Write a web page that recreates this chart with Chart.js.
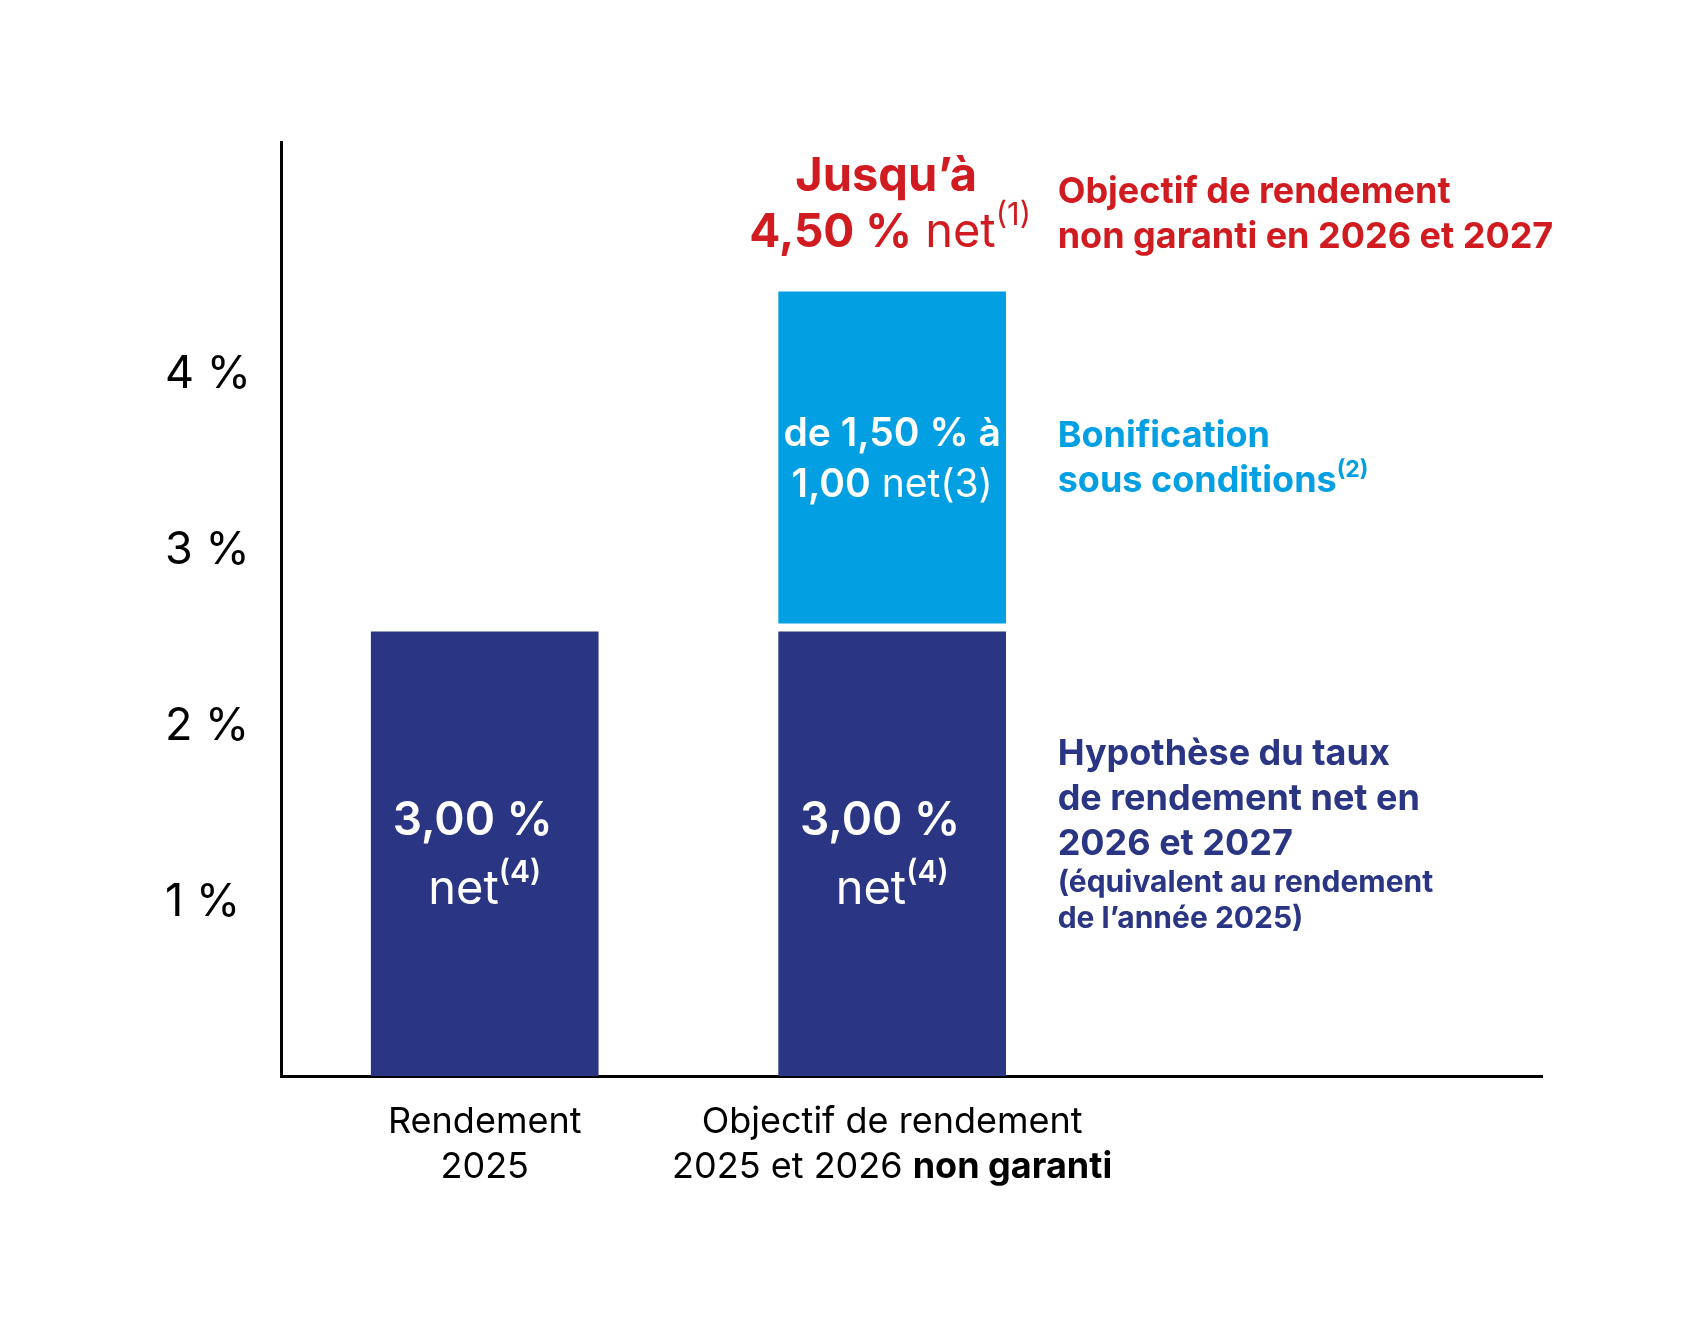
<!DOCTYPE html>
<html lang="fr">
<head>
<meta charset="UTF-8">
<title>Objectif de rendement</title>
<style>
    html, body { margin: 0; padding: 0; background: #fff; }
    #wrap { width: 1707px; height: 1326px; }
</style>
</head>
<body>
<div id="wrap"><canvas id="chart" width="1707" height="1326"></canvas></div>
<script src="https://cdn.jsdelivr.net/npm/chart.js"></script>
<script>
// --- data ---
const categories = ['Rendement 2025', 'Objectif de rendement 2025 et 2026 non garanti'];
const categoryPos = [0, 1];
const baseValues = [2.52, 2.52];          // navy bars (as drawn)
const bonusRange = [2.57, 4.45];          // light blue bar on top of the 2nd category
const yTicks = [1, 2, 3, 4];
const yTickLabels = ['1 %', '2 %', '3 %', '4 %'];

const NAVY = '#2a3583';
const BLUE = '#02a0e3';
const RED = '#d01c20';
const FONT = 'Inter, "Open Sans", sans-serif';

function f(weight, size) {
    return weight + ' ' + size + 'px ' + FONT;
}

// draws a line made of several runs (text, font, colour, vertical shift)
function drawRuns(ctx, runs, x, y, align) {
    let total = 0;
    runs.forEach(r => { ctx.font = r[1]; total += ctx.measureText(r[0]).width; });
    let cx = align === 'center' ? x - total / 2 : x;
    ctx.textAlign = 'left';
    ctx.textBaseline = 'alphabetic';
    runs.forEach(r => {
        ctx.font = r[1];
        ctx.fillStyle = r[2];
        ctx.fillText(r[0], cx, y + (r[3] || 0));
        cx += ctx.measureText(r[0]).width;
    });
}

const annotations = {
    id: 'annotations',
    afterDraw(chart) {
        const ctx = chart.ctx;
        const area = chart.chartArea;
        const xs = chart.scales.x;
        const navyBars = chart.getDatasetMeta(0).data;
        const blueBar = chart.getDatasetMeta(1).data[0];
        const navyTop = navyBars[1].y;
        const blueTop = blueBar.y;
        const c0 = xs.getPixelForValue(categoryPos[0]);
        const c1 = xs.getPixelForValue(categoryPos[1]);
        const legendX = blueBar.x + blueBar.width / 2 + 52;

        ctx.save();

        // labels inside navy bars
        navyBars.forEach(bar => {
            drawRuns(ctx, [['3,00 %', f(600, 46), '#fff']], bar.x - 12, navyTop + 203, 'center');
            drawRuns(ctx, [['net', f(400, 47), '#fff'], ['(4)', f(600, 30), '#fff', -22]], bar.x, navyTop + 272, 'center');
        });

        // label inside blue bar
        drawRuns(ctx, [['de 1,50 % à', f(600, 39), '#fff']], c1, blueTop + 154, 'center');
        drawRuns(ctx, [['1,00', f(600, 39), '#fff'], [' net(3)', f(400, 39), '#fff']], c1, blueTop + 205, 'center');

        // red headline above the stacked bar
        drawRuns(ctx, [['Jusqu’à', f(700, 47), RED]], c1 - 6, blueTop - 101, 'center');
        drawRuns(ctx, [['4,50 %', f(700, 46), RED], [' net', f(400, 47), RED], ['(1)', f(400, 31), RED, -22]], c1 - 2, blueTop - 45, 'center');

        // right-hand legend texts
        drawRuns(ctx, [['Objectif de rendement', f(700, 36), RED]], legendX, blueTop - 89, 'left');
        drawRuns(ctx, [['non garanti en 2026 et 2027', f(700, 36), RED]], legendX, blueTop - 44, 'left');

        drawRuns(ctx, [['Bonification', f(700, 36), BLUE]], legendX, blueTop + 155, 'left');
        drawRuns(ctx, [['sous conditions', f(700, 36), BLUE], ['(2)', f(700, 23), BLUE, -15]], legendX, blueTop + 200, 'left');

        drawRuns(ctx, [['Hypothèse du taux', f(700, 36), NAVY]], legendX, navyTop + 133, 'left');
        drawRuns(ctx, [['de rendement net en', f(700, 36), NAVY]], legendX, navyTop + 178, 'left');
        drawRuns(ctx, [['2026 et 2027', f(700, 36), NAVY]], legendX, navyTop + 223, 'left');
        drawRuns(ctx, [['(équivalent au rendement', f(700, 30), NAVY]], legendX, navyTop + 260, 'left');
        drawRuns(ctx, [['de l’année 2025)', f(700, 30), NAVY]], legendX, navyTop + 296, 'left');

        // category labels under the axis
        drawRuns(ctx, [['Rendement', f(400, 36), '#000']], c0, area.bottom + 57, 'center');
        drawRuns(ctx, [['2025', f(400, 36), '#000']], c0, area.bottom + 102, 'center');
        drawRuns(ctx, [['Objectif de rendement', f(400, 36), '#000']], c1, area.bottom + 57, 'center');
        drawRuns(ctx, [['2025 et 2026 ', f(400, 36), '#000'], ['non garanti', f(700, 36), '#000']], c1, area.bottom + 102, 'center');

        ctx.restore();
    }
};

function makeChart() {
    const ctx = document.getElementById('chart').getContext('2d');
    new Chart(ctx, {
        type: 'bar',
        data: {
            datasets: [
                {
                    label: 'Hypothèse du taux de rendement net',
                    data: categoryPos.map((x, i) => ({ x: x, y: [0, baseValues[i]] })),
                    backgroundColor: NAVY,
                    barThickness: 227,
                    grouped: false
                },
                {
                    label: 'Bonification sous conditions',
                    data: [{ x: categoryPos[1], y: bonusRange }],
                    backgroundColor: BLUE,
                    barThickness: 227,
                    grouped: false
                }
            ]
        },
        options: {
            responsive: false,
            animation: false,
            devicePixelRatio: 1,
            layout: { padding: { top: 142, right: 165, bottom: 0, left: 165 } },
            plugins: {
                legend: { display: false },
                tooltip: { enabled: false }
            },
            scales: {
                x: {
                    type: 'linear',
                    min: -0.5,
                    max: 2.595,
                    offset: false,
                    grid: { display: false, drawTicks: false },
                    border: { display: true, color: '#000', width: 3 },
                    ticks: { display: false },
                    afterFit: scale => { scale.height = 250; }
                },
                y: {
                    min: 0,
                    max: 5.3,
                    grid: { display: false, drawTicks: false },
                    border: { display: true, color: '#000', width: 3 },
                    afterBuildTicks: scale => { scale.ticks = yTicks.map(v => ({ value: v })); },
                    ticks: {
                        crossAlign: 'far',
                        labelOffset: 3,
                        padding: 30,
                        color: '#000',
                        font: { family: FONT, size: 45, weight: 400 },
                        callback: (v) => yTickLabels[yTicks.indexOf(v)]
                    },
                    afterFit: scale => { scale.width = 116; }
                }
            }
        },
        plugins: [annotations]
    });
}

Promise.all([
    document.fonts.load(f(400, 36)),
    document.fonts.load(f(600, 36)),
    document.fonts.load(f(700, 36))
]).then(makeChart, makeChart);
</script>
</body>
</html>
